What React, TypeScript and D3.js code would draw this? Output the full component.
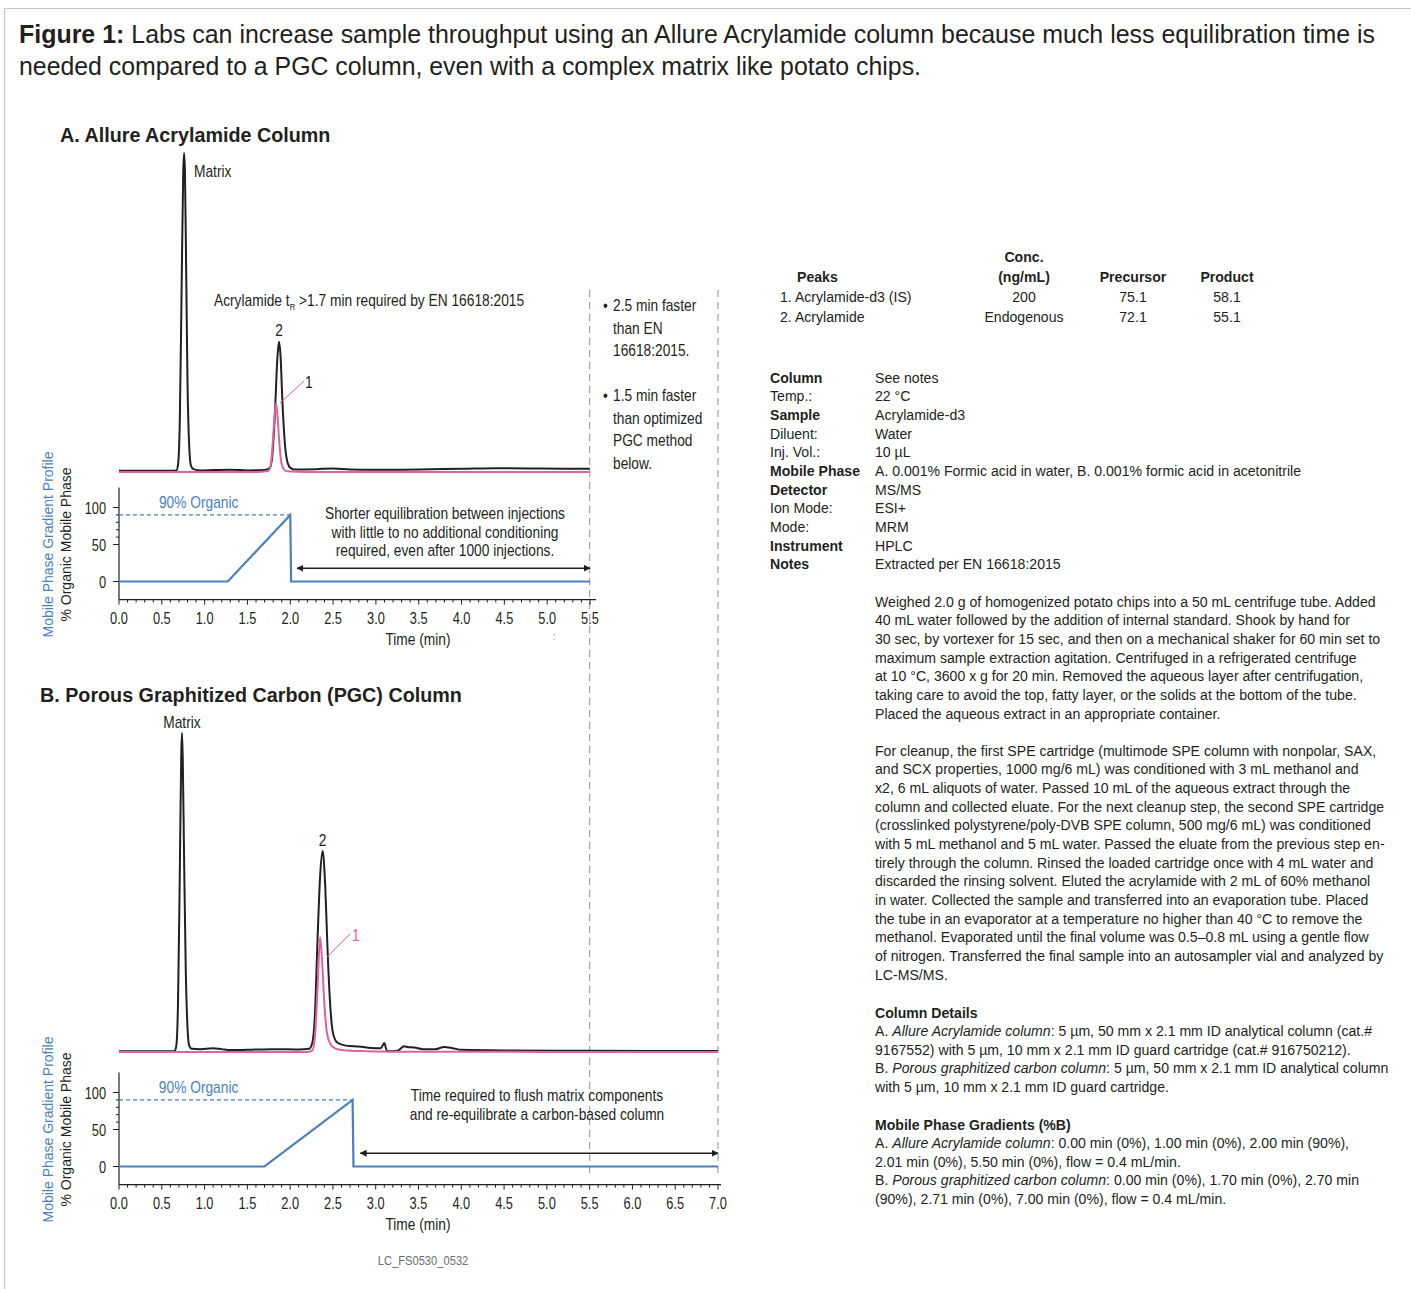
import React from 'react';
import * as d3 from 'd3';

// ---------- DATA ----------
// Chromatogram A (Allure Acrylamide column): [time (min), relative intensity]
const traceABlack: [number, number][] = [
  [0, 0.4], [0.3, 0.4], [0.6, 0.4], [0.67, 0.5], [0.69, 2.5], [0.71, 16], [0.73, 55], [0.75, 94], [0.76, 100],
  [0.77, 94], [0.785, 62], [0.8, 28], [0.82, 8], [0.84, 2], [0.87, 0.9], [0.95, 0.5], [1.1, 0.6], [1.3, 0.7],
  [1.5, 0.5], [1.7, 0.6], [1.76, 1.2], [1.79, 5], [1.82, 18], [1.85, 36], [1.868, 40.8], [1.885, 37],
  [1.91, 21], [1.94, 8], [1.97, 2.8], [2.0, 1.3], [2.05, 0.8], [2.3, 0.9], [2.5, 1.1], [2.7, 0.8], [3.0, 0.7],
  [3.5, 0.8], [4.0, 1.0], [4.4, 1.2], [4.8, 1.1], [5.2, 1.0], [5.5, 1.0],
];
const traceAPink: [number, number][] = [
  [0, 0], [1.0, 0], [1.6, 0], [1.74, 0.3], [1.77, 2], [1.79, 7], [1.81, 15], [1.833, 21.6], [1.85, 18],
  [1.87, 10], [1.89, 4], [1.92, 1], [1.96, 0.2], [2.2, 0], [5.5, 0],
];
// Chromatogram B (PGC column)
const traceBBlack: [number, number][] = [
  [0, 0.2], [0.5, 0.2], [0.65, 0.3], [0.67, 2], [0.69, 16], [0.71, 55], [0.728, 94], [0.736, 100], [0.745, 92],
  [0.76, 62], [0.78, 26], [0.8, 8], [0.82, 2], [0.85, 1], [0.95, 0.9], [1.1, 1.2], [1.2, 0.9], [1.3, 0.6],
  [1.5, 0.7], [1.8, 0.9], [2.1, 0.8], [2.22, 1], [2.26, 3], [2.29, 12], [2.32, 35], [2.35, 55], [2.38, 63],
  [2.41, 52], [2.44, 30], [2.47, 14], [2.5, 6], [2.55, 3], [2.65, 2], [2.8, 1.7], [3.0, 1.2], [3.06, 1.2],
  [3.1, 2.8], [3.13, 0.4], [3.17, 0.2], [3.22, 0.3], [3.27, 0.6], [3.33, 1.8], [3.38, 1.5], [3.45, 1.4],
  [3.55, 0.9], [3.7, 0.9], [3.8, 1.6], [3.9, 1.2], [4.0, 0.7], [4.5, 0.5], [5.5, 0.4], [6.5, 0.3], [7.0, 0.3],
];
const traceBPink: [number, number][] = [
  [0, 0], [2.2, 0], [2.26, 0.5], [2.29, 5], [2.32, 20], [2.35, 36], [2.37, 30], [2.4, 15], [2.43, 6],
  [2.47, 2.5], [2.52, 1.2], [2.6, 0.6], [2.8, 0.3], [3.2, 0.1], [7, 0],
];
// Gradient profiles: [time (min), % organic]
const gradientA: [number, number][] = [[0, 0], [1.27, 0], [2.0, 90], [2.01, 0], [5.5, 0]];
const gradientB: [number, number][] = [[0, 0], [1.7, 0], [2.73, 90], [2.74, 0], [7.0, 0]];

const xTicksA = [0, 0.5, 1.0, 1.5, 2.0, 2.5, 3.0, 3.5, 4.0, 4.5, 5.0, 5.5];
const xTicksB = [0, 0.5, 1.0, 1.5, 2.0, 2.5, 3.0, 3.5, 4.0, 4.5, 5.0, 5.5, 6.0, 6.5, 7.0];
const yTicks = [0, 50, 100];
const yMinorTicks = [60, 70, 80, 90];

const tableHeader = ['Peaks', 'Conc.', '(ng/mL)', 'Precursor', 'Product'];
const peakNames = ['1. Acrylamide-d3 (IS)', '2. Acrylamide'];
const peakConc = ['200', 'Endogenous'];
const peakPrecursor = ['75.1', '72.1'];
const peakProduct = ['58.1', '55.1'];

const methodLabels: [string, boolean][] = [
  ['Column', true], ['Temp.:', false], ['Sample', true], ['Diluent:', false], ['Inj. Vol.:', false],
  ['Mobile Phase', true], ['Detector', true], ['Ion Mode:', false], ['Mode:', false], ['Instrument', true], ['Notes', true],
];
const methodValues = [
  'See notes', '22 °C', 'Acrylamide-d3', 'Water', '10 µL',
  'A. 0.001% Formic acid in water, B. 0.001% formic acid in acetonitrile', 'MS/MS', 'ESI+', 'MRM', 'HPLC',
  'Extracted per EN 16618:2015',
];
const notesPara1 = [
  'Weighed 2.0 g of homogenized potato chips into a 50 mL centrifuge tube. Added',
  '40 mL water followed by the addition of internal standard. Shook by hand for',
  '30 sec, by vortexer for 15 sec, and then on a mechanical shaker for 60 min set to',
  'maximum sample extraction agitation. Centrifuged in a refrigerated centrifuge',
  'at 10 °C, 3600 x g for 20 min. Removed the aqueous layer after centrifugation,',
  'taking care to avoid the top, fatty layer, or the solids at the bottom of the tube.',
  'Placed the aqueous extract in an appropriate container.',
];
const notesPara2 = [
  'For cleanup, the first SPE cartridge (multimode SPE column with nonpolar, SAX,',
  'and SCX properties, 1000 mg/6 mL) was conditioned with 3 mL methanol and',
  'x2, 6 mL aliquots of water. Passed 10 mL of the aqueous extract through the',
  'column and collected eluate. For the next cleanup step, the second SPE cartridge',
  '(crosslinked polystyrene/poly-DVB SPE column, 500 mg/6 mL) was conditioned',
  'with 5 mL methanol and 5 mL water. Passed the eluate from the previous step en-',
  'tirely through the column. Rinsed the loaded cartridge once with 4 mL water and',
  'discarded the rinsing solvent. Eluted the acrylamide with 2 mL of 60% methanol',
  'in water. Collected the sample and transferred into an evaporation tube. Placed',
  'the tube in an evaporator at a temperature no higher than 40 °C to remove the',
  'methanol. Evaporated until the final volume was 0.5–0.8 mL using a gentle flow',
  'of nitrogen. Transferred the final sample into an autosampler vial and analyzed by',
  'LC-MS/MS.',
];
// [plain prefix, italic part, plain rest]
const columnDetails: [string, string, string][] = [
  ['A. ', 'Allure Acrylamide column', ': 5 µm, 50 mm x 2.1 mm ID analytical column (cat.#'],
  ['9167552) with 5 µm, 10 mm x 2.1 mm ID guard cartridge (cat.# 916750212).', '', ''],
  ['B. ', 'Porous graphitized carbon column', ': 5 µm, 50 mm x 2.1 mm ID analytical column'],
  ['with 5 µm, 10 mm x 2.1 mm ID guard cartridge.', '', ''],
];
const gradientNotes: [string, string, string][] = [
  ['A. ', 'Allure Acrylamide column', ': 0.00 min (0%), 1.00 min (0%), 2.00 min (90%),'],
  ['2.01 min (0%), 5.50 min (0%), flow = 0.4 mL/min.', '', ''],
  ['B. ', 'Porous graphitized carbon column', ': 0.00 min (0%), 1.70 min (0%), 2.70 min'],
  ['(90%), 2.71 min (0%), 7.00 min (0%), flow = 0.4 mL/min.', '', ''],
];
const bulletsA = [['2.5 min faster', 'than EN', '16618:2015.'], ['1.5 min faster', 'than optimized', 'PGC method', 'below.']];

// ---------- STYLE ----------
const INK = '#231f20';
const BLUE = '#4a7fc1';
const PINK = '#e2609f';
const GRAY = '#a3a3a3';
const CF = "'Liberation Sans', Arial, Helvetica, sans-serif";

type TProps = {
  x: number; y: number; sx?: number; size?: number; weight?: number | string; anchor?: string;
  fill?: string; italic?: boolean; children?: React.ReactNode;
};
function T({ x, y, sx = 0.86, size = 16, weight = 400, anchor = 'start', fill = INK, italic, children }: TProps) {
  return (
    <text transform={`translate(${x},${y}) scale(${sx},1)`} fontFamily={CF} fontSize={size} fontWeight={weight as any}
      textAnchor={anchor as any} fill={fill} fontStyle={italic ? 'italic' : undefined}>
      {children}
    </text>
  );
}

// ---------- SCALES ----------
const xA = d3.scaleLinear().domain([0, 5.5]).range([119, 590]);
const xB = d3.scaleLinear().domain([0, 7]).range([119, 718]);
const yChromA = d3.scaleLinear().domain([0, 100]).range([472, 153]);
const yChromB = d3.scaleLinear().domain([0, 100]).range([1052, 733]);
const yGradA = d3.scaleLinear().domain([0, 100]).range([581.5, 507.5]);
const yGradB = d3.scaleLinear().domain([0, 100]).range([1166.5, 1092.5]);

function lineFor(x: d3.ScaleLinear<number, number>, y: d3.ScaleLinear<number, number>, curve: d3.CurveFactory) {
  return d3.line<[number, number]>().x((d) => x(d[0])).y((d) => y(d[1])).curve(curve);
}

function GradientPanel({ x, y, data, ticks, axisEnd, arrowFrom, noteLines, noteX, noteY }: {
  x: d3.ScaleLinear<number, number>; y: d3.ScaleLinear<number, number>; data: [number, number][];
  ticks: number[]; axisEnd: number; arrowFrom: number; noteLines: string[]; noteX: number; noteY: number;
}) {
  const x0 = x(0);
  const yBottom = y(-24.5);
  const yTop = y(127);
  const minor = d3.range(0, ticks[ticks.length - 1] + 0.001, 0.1);
  const line = lineFor(x, y, d3.curveLinear);
  const peak = data.find((d) => d[1] === 90)!;
  const tEnd = data[data.length - 1][0];
  const mid = (y(100) + y(0)) / 2;
  return (
    <g>
      {/* axes */}
      <line x1={x0} x2={x0} y1={yTop} y2={yBottom} stroke={INK} strokeWidth={1.2} />
      <line x1={x0} x2={axisEnd} y1={yBottom} y2={yBottom} stroke={INK} strokeWidth={1.2} />
      {minor.map((t, i) => {
        const major = Math.abs(t * 2 - Math.round(t * 2)) < 1e-6;
        return <line key={i} x1={x(t)} x2={x(t)} y1={yBottom} y2={yBottom + (major ? 5 : 3)} stroke={INK} strokeWidth={1} />;
      })}
      {ticks.map((t) => (
        <T key={t} x={x(t)} y={yBottom + 24} size={16} sx={0.8} anchor="middle">{t.toFixed(1)}</T>
      ))}
      {yTicks.map((v) => (
        <g key={v}>
          <line x1={x0 - 6} x2={x0} y1={y(v)} y2={y(v)} stroke={INK} strokeWidth={1} />
          <T x={x0 - 13} y={y(v) + 6} size={16} sx={0.8} anchor="end">{v}</T>
        </g>
      ))}
      {yMinorTicks.map((v) => (
        <line key={v} x1={x0 - 3} x2={x0} y1={y(v)} y2={y(v)} stroke={INK} strokeWidth={1} />
      ))}
      <T x={418} y={yBottom + 45} size={16} sx={0.86} anchor="middle">Time (min)</T>
      {/* axis titles */}
      <text transform={`translate(53,${mid}) rotate(-90)`} fontFamily={CF} fontSize={14} fill={BLUE} textAnchor="middle">
        Mobile Phase Gradient Profile
      </text>
      <text transform={`translate(71,${mid}) rotate(-90)`} fontFamily={CF} fontSize={14} fill={INK} textAnchor="middle">
        % Organic Mobile Phase
      </text>
      {/* 90% dashed guide */}
      <line x1={x0} x2={x(peak[0])} y1={y(90)} y2={y(90)} stroke={BLUE} strokeWidth={1.3} strokeDasharray="4 3" />
      <T x={x(0.93)} y={y(100)} size={16} sx={0.86} fill={BLUE} anchor="middle">90% Organic</T>
      {/* gradient */}
      <path d={line(data)!} fill="none" stroke={BLUE} strokeWidth={2.2} />
      {/* arrow */}
      <line x1={x(arrowFrom)} x2={x(tEnd)} y1={y(18)} y2={y(18)} stroke={INK} strokeWidth={1.4}
        markerStart="url(#arrowS)" markerEnd="url(#arrowE)" />
      {noteLines.map((s, i) => (
        <T key={i} x={noteX} y={noteY + i * 18.5} size={16} sx={0.86} anchor="middle">{s}</T>
      ))}
    </g>
  );
}

export default function App() {
  const lA = lineFor(xA, yChromA, d3.curveMonotoneX);
  const lB = lineFor(xB, yChromB, d3.curveMonotoneX);
  const W = 1411, H = 1289;
  const rx = 875;
  const lh = 18.67;
  return (
    <div style={{ position: 'absolute', left: 0, top: 0, background: '#fff' }}>
      <svg width={W} height={H} viewBox={`0 0 ${W} ${H}`} style={{ display: 'block' }}>
        <defs>
          <marker id="arrowE" viewBox="0 0 10 10" refX="9" refY="5" markerWidth="7" markerHeight="7" orient="auto" markerUnits="userSpaceOnUse">
            <path d="M0,0 L10,5 L0,10 Z" fill={INK} />
          </marker>
          <marker id="arrowS" viewBox="0 0 10 10" refX="1" refY="5" markerWidth="7" markerHeight="7" orient="auto" markerUnits="userSpaceOnUse">
            <path d="M10,0 L0,5 L10,10 Z" fill={INK} />
          </marker>
        </defs>
        <rect x={0} y={0} width={W} height={H} fill="#fff" />
        {/* frame */}
        <line x1={4} x2={W} y1={8.5} y2={8.5} stroke="#c9c9c9" strokeWidth={1.2} />
        <line x1={4.5} x2={4.5} y1={8} y2={H} stroke="#c9c9c9" strokeWidth={1.2} />

        {/* figure title */}
        <text x={19} y={43} fontFamily={CF} fontSize={25} fill={INK} textLength={1356} lengthAdjust="spacingAndGlyphs">
          <tspan fontWeight={700}>Figure 1:</tspan> Labs can increase sample throughput using an Allure Acrylamide column because much less equilibration time is
        </text>
        <text x={19} y={75} fontFamily={CF} fontSize={25} fill={INK} textLength={902} lengthAdjust="spacingAndGlyphs">
          needed compared to a PGC column, even with a complex matrix like potato chips.
        </text>

        {/* vertical dashed reference lines */}
        <line x1={xB(5.5)} x2={xB(5.5)} y1={290} y2={1176} stroke={GRAY} strokeWidth={1.2} strokeDasharray="7 5" />
        <line x1={xB(7)} x2={xB(7)} y1={290} y2={1176} stroke={GRAY} strokeWidth={1.2} strokeDasharray="7 5" />

        {/* ---------- Panel A ---------- */}
        <T x={60} y={142} size={21} weight={700} sx={0.94}>A. Allure Acrylamide Column</T>
        <path d={lA(traceABlack)!} fill="none" stroke={INK} strokeWidth={2} />
        <path d={lA(traceAPink)!} fill="none" stroke={PINK} strokeWidth={2} />
        <T x={194} y={177} size={16}>Matrix</T>
        <T x={214} y={306}>
          Acrylamide t<tspan fontSize={9} dy={4}>R</tspan><tspan dy={-4}> &gt;1.7 min required by EN 16618:2015</tspan>
        </T>
        <T x={xA(1.868)} y={336} anchor="middle">2</T>
        <line x1={xA(1.833) + 4} y1={yChromA(21.6)} x2={304} y2={381} stroke={PINK} strokeWidth={1} />
        <T x={305} y={388}>1</T>
        {bulletsA.map((grp, gi) => (
          <g key={gi}>
            <T x={603} y={[311, 401][gi]} anchor="start">•</T>
            {grp.map((s, i) => (
              <T key={i} x={613} y={[311, 401][gi] + i * 22.5}>{s}</T>
            ))}
          </g>
        ))}
        <GradientPanel x={xA} y={yGradA} data={gradientA} ticks={xTicksA} axisEnd={596} arrowFrom={2.08}
          noteLines={['Shorter equilibration between injections', 'with little to no additional conditioning', 'required, even after 1000 injections.']}
          noteX={445} noteY={519} />
        <T x={553} y={640} size={10} fill="#888">:</T>

        {/* ---------- Panel B ---------- */}
        <T x={40} y={702} size={21} weight={700} sx={0.94}>B. Porous Graphitized Carbon (PGC) Column</T>
        <path d={lB(traceBBlack)!} fill="none" stroke={INK} strokeWidth={2} />
        <path d={lB(traceBPink)!} fill="none" stroke={PINK} strokeWidth={2} />
        <T x={xB(0.736)} y={728} anchor="middle">Matrix</T>
        <T x={xB(2.38)} y={846} anchor="middle">2</T>
        <line x1={xB(2.36) + 6} y1={957} x2={350} y2={934} stroke={PINK} strokeWidth={1} />
        <T x={352} y={941} fill={PINK}>1</T>
        <GradientPanel x={xB} y={yGradB} data={gradientB} ticks={xTicksB} axisEnd={721} arrowFrom={2.82}
          noteLines={['Time required to flush matrix components', 'and re-equilibrate a carbon-based column']}
          noteX={537} noteY={1101} />
        <T x={423} y={1265} size={13} sx={0.86} fill="#6d6d6d" anchor="middle">LC_FS0530_0532</T>

        {/* ---------- Right side: peaks table ---------- */}
        <T x={1024} y={262} size={15} sx={0.94} weight={700} anchor="middle">{tableHeader[1]}</T>
        <T x={797} y={282} size={15} sx={0.94} weight={700}>{tableHeader[0]}</T>
        <T x={1024} y={282} size={15} sx={0.94} weight={700} anchor="middle">{tableHeader[2]}</T>
        <T x={1133} y={282} size={15} sx={0.94} weight={700} anchor="middle">{tableHeader[3]}</T>
        <T x={1227} y={282} size={15} sx={0.94} weight={700} anchor="middle">{tableHeader[4]}</T>
        {peakNames.map((n, i) => (
          <g key={n}>
            <T x={780} y={302 + i * 20} size={15} sx={0.94}>{n}</T>
            <T x={1024} y={302 + i * 20} size={15} sx={0.94} anchor="middle">{peakConc[i]}</T>
            <T x={1133} y={302 + i * 20} size={15} sx={0.94} anchor="middle">{peakPrecursor[i]}</T>
            <T x={1227} y={302 + i * 20} size={15} sx={0.94} anchor="middle">{peakProduct[i]}</T>
          </g>
        ))}

        {/* method block */}
        {methodLabels.map(([lab, bold], i) => (
          <g key={lab}>
            <T x={770} y={382.5 + i * lh} size={15} sx={0.94} weight={bold ? 700 : 400}>{lab}</T>
            <T x={rx} y={382.5 + i * lh} size={15} sx={0.94}>{methodValues[i]}</T>
          </g>
        ))}

        {/* notes */}
        {notesPara1.map((s, i) => (
          <T key={i} x={rx} y={606.5 + i * lh} size={15} sx={0.94}>{s}</T>
        ))}
        {notesPara2.map((s, i) => (
          <T key={i} x={rx} y={755.5 + i * lh} size={15} sx={0.94}>{s}</T>
        ))}
        <T x={rx} y={1017.5} size={15} sx={0.94} weight={700}>Column Details</T>
        {columnDetails.map(([a, it, b], i) => (
          <T key={i} x={rx} y={1036 + i * lh} size={15} sx={0.94}>
            {a}{it ? <tspan fontStyle="italic">{it}</tspan> : null}{b}
          </T>
        ))}
        <T x={rx} y={1129.5} size={15} sx={0.94} weight={700}>Mobile Phase Gradients (%B)</T>
        {gradientNotes.map(([a, it, b], i) => (
          <T key={i} x={rx} y={1148 + i * lh} size={15} sx={0.94}>
            {a}{it ? <tspan fontStyle="italic">{it}</tspan> : null}{b}
          </T>
        ))}
      </svg>
    </div>
  );
}
